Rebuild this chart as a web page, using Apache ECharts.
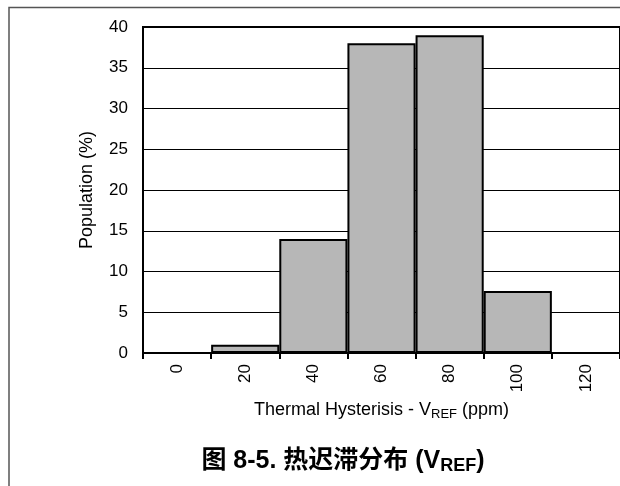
<!DOCTYPE html>
<html>
<head>
<meta charset="utf-8">
<script src="https://cdn.jsdelivr.net/npm/echarts@6/dist/echarts.min.js"></script>
<style>
  html, body { margin: 0; padding: 0; background: #fff; }
  #chart { width: 620px; height: 486px; }
</style>
</head>
<body>
<div id="chart"></div>
<script>
// Histogram bins (ppm) and population share per bin (%)
const binLabels = ['0', '20', '40', '60', '80', '100', '120'];
const population = [0, 1, 14, 38, 39, 7.6, 0];
const yTicks = [0, 5, 10, 15, 20, 25, 30, 35, 40];

const latin = '"Liberation Sans", Arial, sans-serif';
const cjk = '"Liberation Sans", "Noto Sans CJK SC", sans-serif';

const chart = echarts.init(document.getElementById('chart'), null, { renderer: 'canvas' });

chart.setOption({
  animation: false,
  backgroundColor: '#fff',
  grid: {
    left: 143, top: 27, width: 478, height: 326,
    show: true, borderColor: '#000', borderWidth: 2, backgroundColor: 'transparent'
  },
  xAxis: {
    type: 'category',
    data: binLabels,
    boundaryGap: true,
    axisLine: { lineStyle: { color: '#000', width: 2 } },
    axisTick: { show: true, length: 6, lineStyle: { color: '#000', width: 2 } },
    axisLabel: { rotate: 90, margin: 11, color: '#000', fontFamily: latin, fontSize: 17 },
    name: 'Thermal Hysterisis - V{sub|REF} (ppm)',
    nameLocation: 'middle',
    nameGap: 47,
    nameTextStyle: {
      color: '#000', fontFamily: latin, fontSize: 18,
      rich: { sub: { fontFamily: latin, fontSize: 13, verticalAlign: 'bottom', padding: [8, 0, 0, 0], color: '#000' } }
    }
  },
  yAxis: {
    type: 'value',
    min: yTicks[0],
    max: yTicks[yTicks.length - 1],
    interval: 5,
    axisLine: { show: true, lineStyle: { color: '#000', width: 2 } },
    axisTick: { show: false },
    splitLine: { show: true, lineStyle: { color: '#000', width: 1 } },
    axisLabel: { margin: 15, color: '#000', fontFamily: latin, fontSize: 17 },
    name: 'Population (%)',
    nameLocation: 'middle',
    nameGap: 47,
    nameTextStyle: { color: '#000', fontFamily: latin, fontSize: 18 }
  },
  series: [{
    type: 'bar',
    data: population,
    barCategoryGap: '0%',
    itemStyle: { color: '#b7b7b7', borderColor: '#000', borderWidth: 2 }
  }],
  graphic: [
    {
      type: 'polyline',
      shape: { points: [[9, 486], [9, 7.5], [620, 7.5]] },
      style: { stroke: '#555', lineWidth: 1.5, fill: null }
    },
    {
      type: 'text',
      x: 343,
      y: 461,
      style: {
        text: '图 8-5. 热迟滞分布 (V{sub|REF})',
        font: 'bold 25px ' + cjk,
        fill: '#000',
        align: 'center',
        verticalAlign: 'middle',
        rich: {
          sub: { fontFamily: latin, fontWeight: 'bold', fontSize: 18, verticalAlign: 'bottom', padding: [11, 0, 0, 0], fill: '#000' }
        }
      }
    }
  ]
});
</script>
</body>
</html>
